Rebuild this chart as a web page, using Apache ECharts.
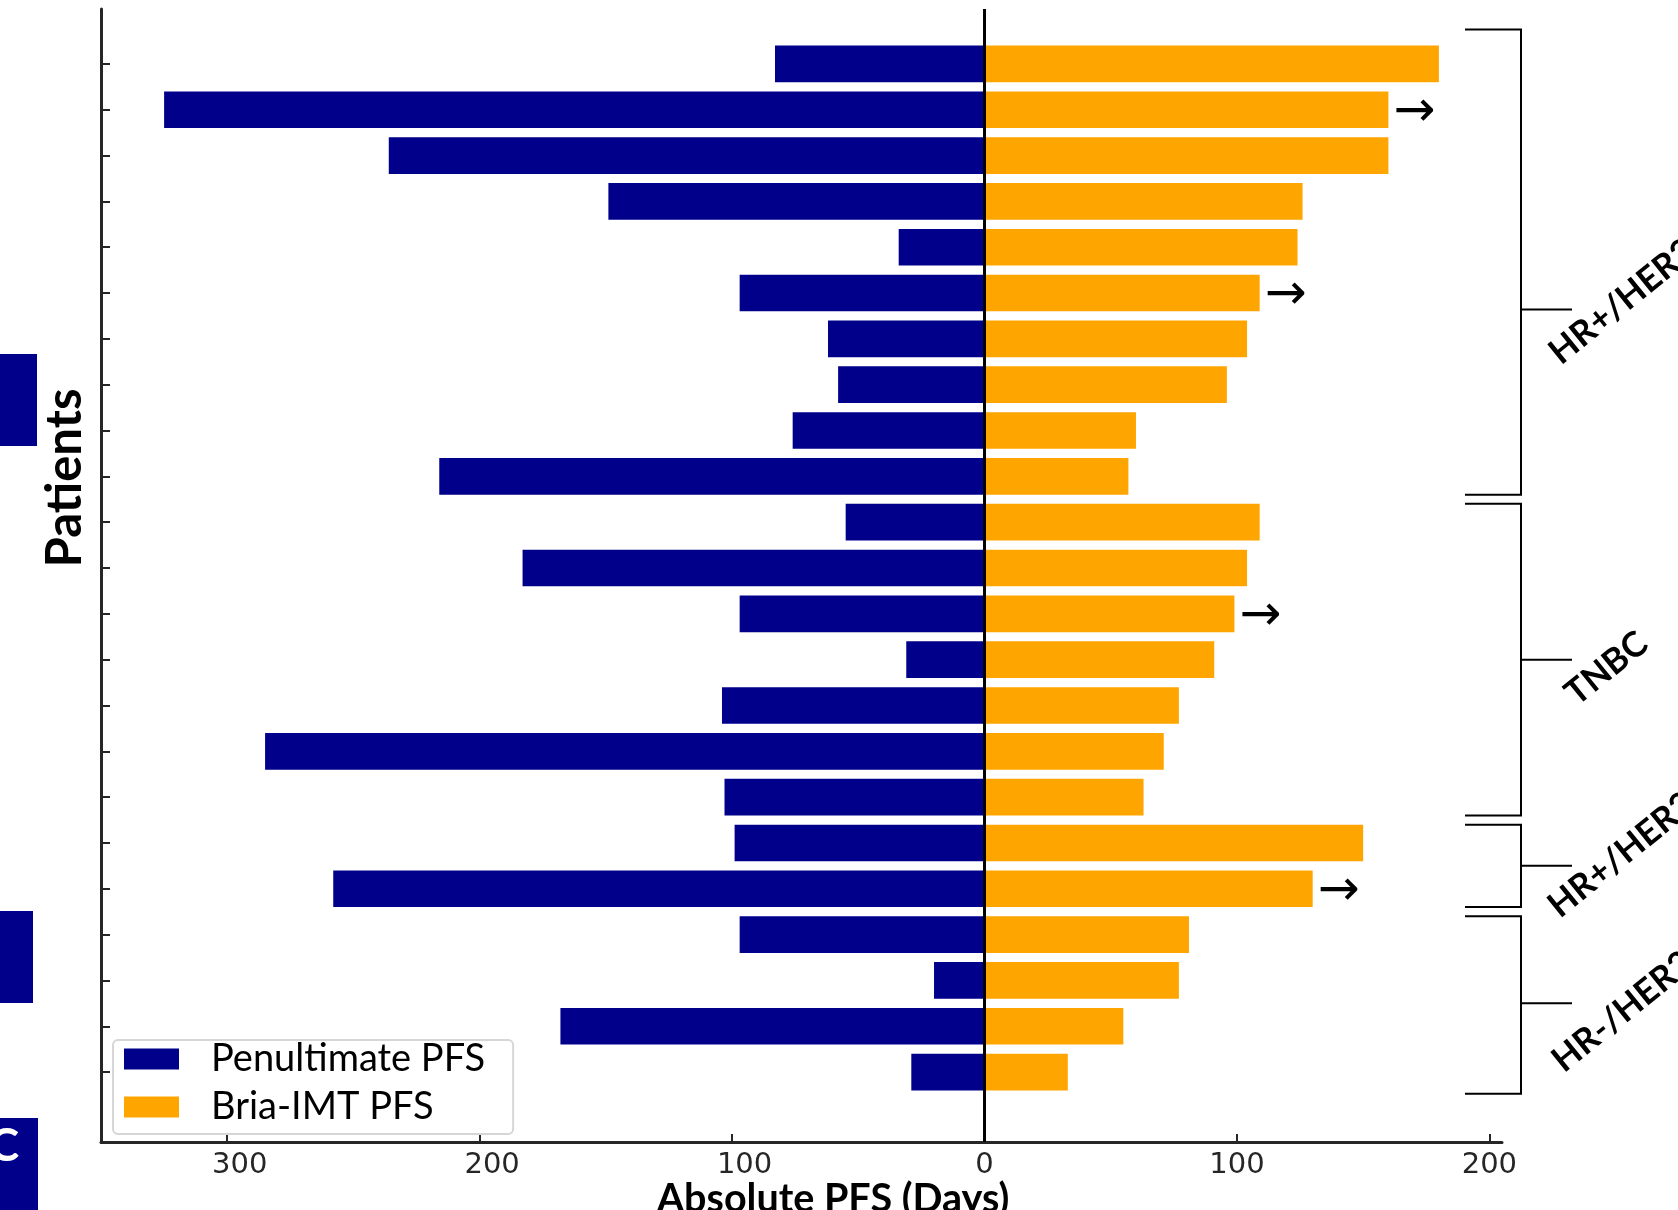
<!DOCTYPE html>
<html>
<head>
<meta charset="utf-8">
<title>Penultimate vs Bria-IMT PFS</title>
<script src="https://cdn.jsdelivr.net/npm/echarts@6.0.0/dist/echarts.min.js"></script>
<style>
  html, body { margin: 0; padding: 0; background: #fff; }
  #main { width: 1678px; height: 1210px; }
</style>
</head>
<body>
<div id="main"></div>
<script>
// patients, top to bottom
var patients = ['1', '2', '3', '4', '5', '6', '7', '8', '9', '10', '11', '12',
  '13', '14', '15', '16', '17', '18', '19', '20', '21', '22', '23'];
// PFS in days
var penultimatePFS = [83, 325, 236, 149, 34, 97, 62, 58, 76, 216, 55, 183,
  97, 31, 104, 285, 103, 99, 258, 97, 20, 168, 29];
var briaPFS = [180, 160, 160, 126, 124, 109, 104, 96, 60, 57, 109, 104,
  99, 91, 77, 71, 63, 150, 130, 81, 77, 55, 33];
// still on treatment (arrow)
var ongoing = [1, 5, 12, 18];
// subtype groups (patient index ranges)
var groupNames = ['HR+/HER2-', 'TNBC', 'HR+/HER2+', 'HR-/HER2+'];
var groupFirst = [0, 10, 17, 19];
var groupLast = [9, 16, 18, 22];
var xTicks = [-300, -200, -100, 0, 100, 200];

var navy = '#00008B';
var orange = '#FFA500';
var axisColor = '#262626';

var chart = echarts.init(document.getElementById('main'));

var briaData = briaPFS.map(function (v, i) {
  if (ongoing.indexOf(i) >= 0) {
    return { value: v, label: { show: true } };
  }
  return v;
});

// label offset pixels for the rotated subtype labels
var labelShift = [[-7, 61], [9, 52], [-8, 58], [-4, 75]];

function renderBracket(params, api) {
  var gi = api.value(3);
  var band = api.size([0, 1])[1];
  var yFirst = api.coord([0, api.value(1)])[1];
  var yLast = api.coord([0, api.value(2)])[1];
  var yTop = yFirst - band * (gi === 0 ? 0.75 : 0.4);
  var yBot = yLast + band * (gi === groupNames.length - 1 ? 0.47 : 0.4);
  var yMid = (yFirst + yLast) / 2 + (gi === 0 ? band * 0.86 : 0);
  var right = params.coordSys.x + params.coordSys.width;
  var xs = right - 37, xv = right + 19, xe = right + 70;
  var st = { stroke: '#000', lineWidth: 2, fill: null };
  return {
    type: 'group',
    children: [
      { type: 'polyline', shape: { points: [[xs, yTop], [xv, yTop], [xv, yBot], [xs, yBot]] }, style: st },
      { type: 'line', shape: { x1: xv, y1: yMid, x2: xe, y2: yMid }, style: st },
      {
        type: 'text',
        x: xe + labelShift[gi][0],
        y: yMid + labelShift[gi][1],
        rotation: 39 * Math.PI / 180,
        style: {
          text: groupNames[gi],
          fontFamily: 'Lato',
          fontWeight: 'bold',
          fontSize: 35,
          fill: '#000',
          align: 'left',
          verticalAlign: 'bottom'
        }
      }
    ]
  };
}

chart.setOption({
  animation: false,
  backgroundColor: '#fff',
  grid: [
    // frame (spines)
    { left: 101, right: 176, top: 9, bottom: 68 },
    // bars
    { left: 101, right: 176, top: 41, bottom: 115 }
  ],
  legend: {
    data: ['Penultimate PFS', 'Bria-IMT PFS'],
    orient: 'vertical',
    left: 113,
    top: 1040,
    icon: 'rect',
    itemWidth: 55,
    itemHeight: 21,
    itemGap: 10,
    padding: [0, 28, 8, 11],
    borderColor: '#d6d6d6',
    borderWidth: 2,
    borderRadius: 5,
    backgroundColor: 'rgba(255,255,255,0.8)',
    textStyle: {
      fontFamily: 'Lato',
      fontSize: 38,
      lineHeight: 27,
      color: '#000',
      padding: [8, 0, 0, 27]
    }
  },
  xAxis: [{
    gridIndex: 0,
    type: 'value',
    min: -350,
    max: 205,
    splitLine: { show: false },
    axisLine: { onZero: false, lineStyle: { color: axisColor, width: 3 } },
    axisTick: {
      inside: true,
      length: 8,
      customValues: xTicks,
      lineStyle: { color: axisColor, width: 2 }
    },
    axisLabel: {
      customValues: xTicks,
      margin: 9,
      color: axisColor,
      fontFamily: 'DejaVu Sans',
      fontSize: 29,
      formatter: function (v) {
        return v < 0 ? '{n|' + (-v) + '}' : String(v);
      },
      rich: {
        n: { fontFamily: 'DejaVu Sans', fontSize: 29, color: axisColor, padding: [0, 0, 0, 25] }
      }
    }
  }, {
    gridIndex: 1,
    type: 'value',
    min: -350,
    max: 205,
    show: false
  }],
  yAxis: [{
    gridIndex: 0,
    type: 'value',
    min: 0,
    max: 1,
    splitLine: { show: false },
    axisTick: { show: false },
    axisLabel: { show: false },
    axisLine: { show: true, onZero: false, lineStyle: { color: axisColor, width: 3 } }
  }, {
    gridIndex: 1,
    type: 'category',
    data: patients,
    inverse: true,
    axisLine: { show: false, onZero: false },
    axisLabel: { show: false, interval: 0 },
    axisTick: {
      show: true,
      inside: true,
      alignWithLabel: true,
      interval: 0,
      length: 9,
      lineStyle: { color: axisColor, width: 2 }
    }
  }],
  series: [
    {
      // zero line
      type: 'line',
      xAxisIndex: 0,
      yAxisIndex: 0,
      data: [[0, 0], [0, 1]],
      showSymbol: false,
      silent: true,
      lineStyle: { color: '#000', width: 3 }
    },
    {
      name: 'Penultimate PFS',
      type: 'bar',
      xAxisIndex: 1,
      yAxisIndex: 1,
      barWidth: '80%',
      barGap: '-100%',
      itemStyle: { color: navy },
      data: penultimatePFS.map(function (v) { return -v; })
    },
    {
      name: 'Bria-IMT PFS',
      type: 'bar',
      xAxisIndex: 1,
      yAxisIndex: 1,
      barWidth: '80%',
      barGap: '-100%',
      itemStyle: { color: orange },
      label: {
        show: false,
        position: 'right',
        distance: 5,
        offset: [0, 3],
        formatter: '\u2192',
        fontFamily: 'DejaVu Sans',
        fontSize: 50,
        color: '#000'
      },
      data: briaData
    },
    {
      type: 'custom',
      xAxisIndex: 1,
      yAxisIndex: 1,
      silent: true,
      clip: false,
      renderItem: renderBracket,
      encode: { x: 0, y: 1 },
      data: groupFirst.map(function (f, i) { return [0, f, groupLast[i], i]; })
    }
  ],
  graphic: [
    {
      type: 'text',
      x: 65,
      y: 478,
      rotation: Math.PI / 2,
      style: {
        text: 'Patients',
        fontFamily: 'Lato',
        fontWeight: 'bold',
        fontSize: 49,
        fill: '#000',
        align: 'center',
        verticalAlign: 'middle'
      }
    },
    {
      type: 'text',
      x: 833,
      y: 1199,
      style: {
        text: 'Absolute PFS (Days)',
        fontFamily: 'Lato',
        fontWeight: 'bold',
        fontSize: 39.5,
        fill: '#000',
        align: 'center',
        verticalAlign: 'middle'
      }
    },
    // cut-off panel blocks at the left edge
    { type: 'rect', shape: { x: 0, y: 354, width: 37, height: 92 }, style: { fill: navy } },
    { type: 'rect', shape: { x: 0, y: 911, width: 33, height: 92 }, style: { fill: navy } },
    { type: 'rect', shape: { x: 0, y: 1118, width: 38, height: 92 }, style: { fill: navy } },
    {
      type: 'text',
      x: 4,
      y: 1146,
      style: {
        text: 'C',
        fontFamily: 'Lato',
        fontWeight: 'bold',
        fontSize: 46,
        fill: '#fff',
        align: 'center',
        verticalAlign: 'middle'
      }
    }
  ]
});
</script>
</body>
</html>
